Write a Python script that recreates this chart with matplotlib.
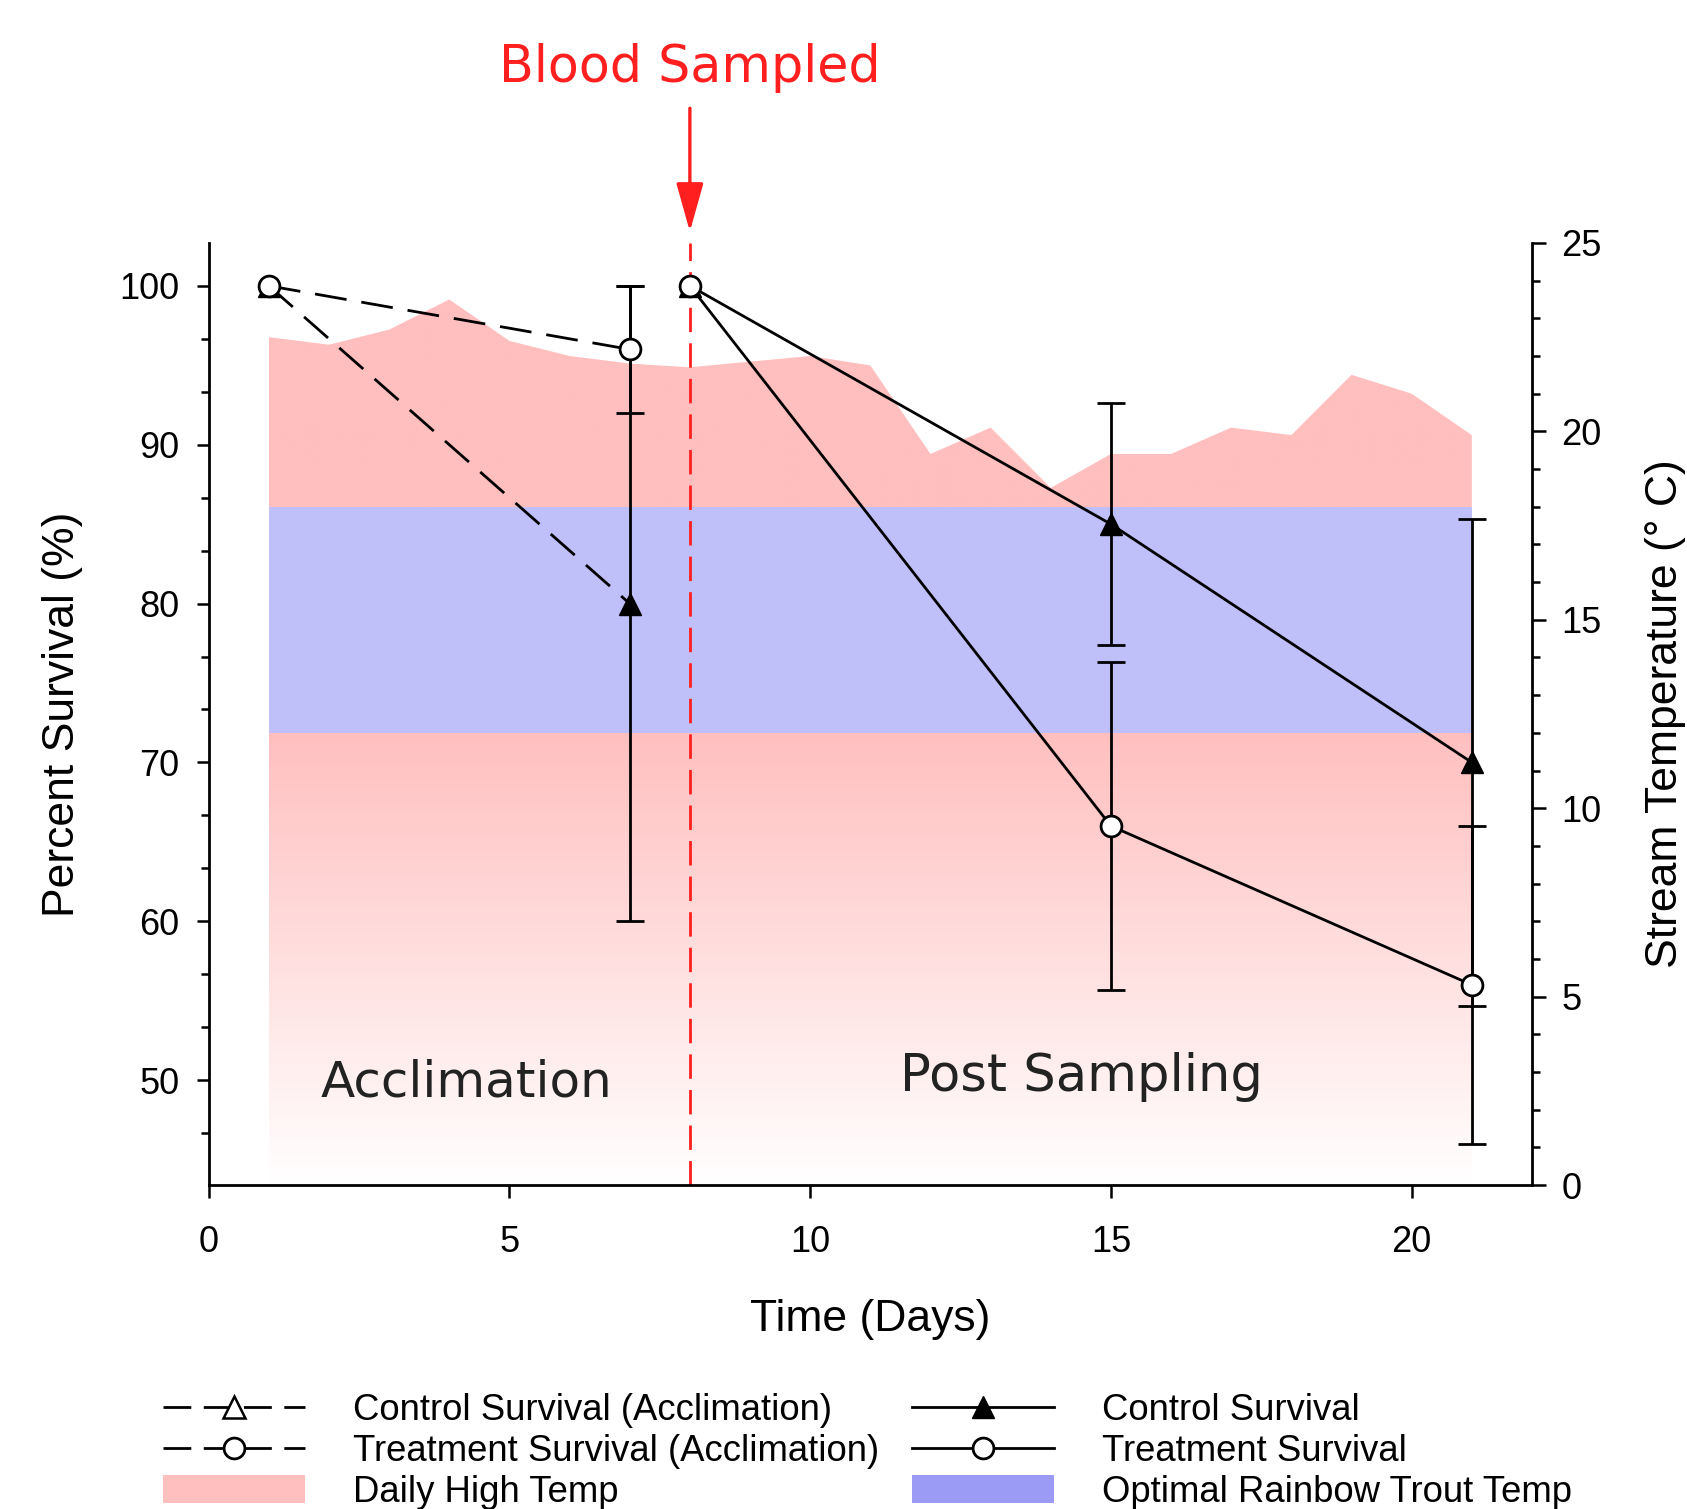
import numpy as np
import matplotlib
matplotlib.use("Agg")
import matplotlib.pyplot as plt
from matplotlib.lines import Line2D
from matplotlib.patches import Patch
from matplotlib.ticker import MultipleLocator

# daily high stream temperature (deg C), days 1-21
temp_days = np.arange(1, 22)
high_temp = [22.5, 22.3, 22.7, 23.5, 22.4, 22.0, 21.8, 21.7, 21.85, 22.0, 21.75,
             19.4, 20.1, 18.5, 19.4, 19.4, 20.1, 19.9, 21.5, 21.0, 19.9]
optimal_lo, optimal_hi = 12, 18

# survival (%) during acclimation
accl_days = np.array([1, 7])
ctrl_accl = np.array([100, 80])
ctrl_accl_err = np.array([0, 20])
trt_accl = np.array([100, 96])
trt_accl_err = np.array([0, 4])

# survival (%) after sampling
post_days = np.array([8, 15, 21])
ctrl_post = np.array([100, 85, 70])
ctrl_post_err = np.array([0, 7.6, 15.3])
trt_post = np.array([100, 66, 56])
trt_post_err = np.array([0, 10.3, 10.0])

sample_day = 8

pink = (1.0, 191/255, 191/255)
band_blue = "#bfbff9"
legend_blue = "#9b9bf5"
red = "#ff1f1f"
arial = "Liberation Sans"
verd = "DejaVu Sans"

fig = plt.figure(figsize=(16.87, 15.09), dpi=100)
ax = fig.add_axes([0.1237, 0.2147, 0.7844, 0.6243])
ax2 = ax.twinx()
ax.set_zorder(ax2.get_zorder() + 1)
ax.patch.set_visible(False)

# temperature fill, fading to white under the band
tt = np.linspace(0, 25, 600)
frac = np.clip(tt / 12.0, 0, 1)
img = np.ones((600, 1, 3))
img[:, 0, 1] = 1 - (1 - pink[1]) * frac
img[:, 0, 2] = 1 - (1 - pink[2]) * frac
im = ax2.imshow(img, extent=[1, 21, 0, 25], origin="lower", aspect="auto", zorder=1)
poly = ax2.fill_between(temp_days, 0, high_temp, facecolor="none", edgecolor="none")
im.set_clip_path(poly.get_paths()[0], transform=ax2.transData)
ax2.fill_between([1, 21], optimal_lo, optimal_hi, color=band_blue, lw=0, zorder=2)

# blood sampling line
ax.axvline(sample_day, color=red, lw=2, dashes=(8.8, 4), zorder=1)

lw = 2.0
dash = (11.5, 5.4)

def errs(x, y, e):
    m = e > 0
    ax.errorbar(x[m], y[m], yerr=e[m], fmt="none", ecolor="black", elinewidth=lw,
                capsize=10, capthick=lw, zorder=2)

errs(accl_days, ctrl_accl, ctrl_accl_err)
errs(accl_days, trt_accl, trt_accl_err)
errs(post_days, ctrl_post, ctrl_post_err)
errs(post_days, trt_post, trt_post_err)

ax.plot(accl_days, ctrl_accl, color="black", lw=lw, dashes=dash, marker="^",
        ms=16, mfc="black", mec="black", zorder=3)
ax.plot(post_days, ctrl_post, color="black", lw=lw, marker="^", ms=16,
        mfc="black", mec="black", zorder=3)
ax.plot(accl_days, trt_accl, color="black", lw=lw, dashes=dash, marker="o",
        ms=15, mfc="white", mec="black", mew=2, zorder=4)
ax.plot(post_days, trt_post, color="black", lw=lw, marker="o", ms=15,
        mfc="white", mec="black", mew=2, zorder=4)

ax.set_xlim(0, 22)
ax.set_ylim(43.4, 102.7)
ax2.set_ylim(0, 25)

ax.xaxis.set_major_locator(MultipleLocator(5))
ax.yaxis.set_major_locator(MultipleLocator(10))
ax.yaxis.set_minor_locator(MultipleLocator(10 / 3))
ax2.yaxis.set_major_locator(MultipleLocator(5))
ax2.yaxis.set_minor_locator(MultipleLocator(1))

for a in (ax, ax2):
    a.spines["top"].set_visible(False)
    for s in a.spines.values():
        s.set_linewidth(2)
ax.spines["right"].set_visible(False)
ax2.spines["left"].set_visible(False)
ax2.spines["bottom"].set_visible(False)

ax.tick_params(axis="both", which="major", length=9, width=1.8, labelsize=26, pad=12)
ax.tick_params(axis="y", which="minor", length=5.5, width=1.8)
ax.tick_params(axis="x", pad=20)
ax2.tick_params(axis="y", which="major", length=10, width=1.8, labelsize=26, pad=11)
ax2.tick_params(axis="y", which="minor", length=6, width=1.8)
for lab in ax.get_xticklabels() + ax.get_yticklabels() + ax2.get_yticklabels():
    lab.set_family(arial)

ax.set_xlabel("Time (Days)", fontsize=32, family=arial, labelpad=28)
ax.set_ylabel("Percent Survival (%)", fontsize=32, family=arial, labelpad=26)
ax2.set_ylabel("Stream Temperature (\u00b0 C)", fontsize=32, family=arial, labelpad=31)

# annotations
ax.text(1.86, 49.0, "Acclimation", fontsize=36, family=verd, color="#222222", va="baseline")
ax.text(11.49, 49.3, "Post Sampling", fontsize=36.8, family=verd, color="#222222", va="baseline")
ax.text(sample_day, 1.171, "Blood Sampled", fontsize=36.5, family=verd, color=red,
        ha="center", va="baseline", transform=ax.get_xaxis_transform())
ax.annotate("", xy=(sample_day, 1.012), xytext=(sample_day, 1.143),
            xycoords=("data", "axes fraction"), textcoords=("data", "axes fraction"),
            arrowprops=dict(arrowstyle="-|>,head_length=1.5,head_width=0.42",
                            mutation_scale=20, color=red, lw=2.4, shrinkA=0, shrinkB=0))

handles = [
    Line2D([], [], color="black", lw=lw, dashes=(10, 4.5), marker="^", ms=16, mfc="white", mec="black", mew=1.8),
    Line2D([], [], color="black", lw=lw, dashes=(10, 4.5), marker="o", ms=15, mfc="white", mec="black", mew=2),
    Patch(facecolor=pink, edgecolor="none"),
    Line2D([], [], color="black", lw=lw, marker="^", ms=16, mfc="black", mec="black"),
    Line2D([], [], color="black", lw=lw, marker="o", ms=15, mfc="white", mec="black", mew=2),
    Patch(facecolor=legend_blue, edgecolor="none"),
]
labels = ["Control Survival (Acclimation)", "Treatment Survival (Acclimation)", "Daily High Temp",
          "Control Survival", "Treatment Survival", "Optimal Rainbow Trout Temp"]
fig.legend(handles, labels, ncol=2, loc="upper left", bbox_to_anchor=(0.0966, 0.0767),
           frameon=False, borderpad=0, borderaxespad=0, handlelength=3.9, handleheight=0.8,
           handletextpad=1.3, columnspacing=0.9, labelspacing=0.16,
           prop={"family": arial, "size": 26.3})

fig.savefig("out.png", dpi=100)
